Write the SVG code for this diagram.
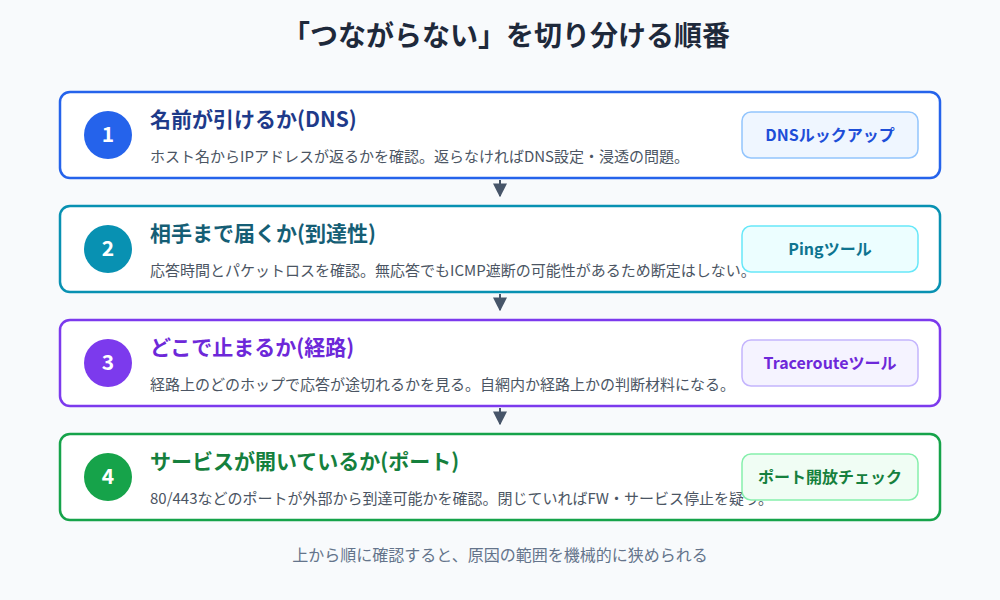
<svg xmlns="http://www.w3.org/2000/svg" width="1000" height="600" viewBox="0 0 1000 600">
<defs>
<style>
text{font-family:"Noto Sans CJK JP","Noto Sans",sans-serif}
.title{font-size:28px;font-weight:700;fill:#1e293b}
.card{fill:#ffffff;stroke-width:2.5}
.num{font-size:21px;font-weight:700;fill:#ffffff}
.h{font-size:21px;font-weight:700}
.d{font-size:15px;fill:#4b5563}
.b{font-size:16px;font-weight:700}
.foot{font-size:16px;fill:#64748b}
.conn{stroke:#475569;stroke-width:2;fill:none}
</style>
<marker id="ah" viewBox="0 0 10 10" refX="9" refY="5" markerWidth="7" markerHeight="7" markerUnits="strokeWidth" orient="auto">
<path d="M0,0 L10,5 L0,10 Z" fill="#475569"/>
</marker>
</defs>
<rect width="1000" height="600" fill="#f8fafc"/>
<text class="title" x="506" y="46" text-anchor="middle">「つながらない」を切り分ける順番</text>

<g id="connectors">
<line class="conn" x1="500" y1="180" x2="500" y2="196" marker-end="url(#ah)"/>
<line class="conn" x1="500" y1="294" x2="500" y2="310" marker-end="url(#ah)"/>
<line class="conn" x1="500" y1="408" x2="500" y2="424" marker-end="url(#ah)"/>
</g>

<g id="step1">
<rect class="card" x="60" y="92" width="880" height="86" rx="10" stroke="#2563eb"/>
<circle cx="108" cy="135" r="24" fill="#2563eb"/>
<text class="num" x="108" y="142" text-anchor="middle">1</text>
<text class="h" x="150" y="127" fill="#1e3a8a">名前が引けるか(DNS)</text>
<text class="d" x="150" y="162">ホスト名からIPアドレスが返るかを確認。返らなければDNS設定・浸透の問題。</text>
<rect x="742" y="112" width="176" height="46" rx="9" fill="#eff6ff" stroke="#93c5fd" stroke-width="1.5"/>
<text class="b" x="830" y="141" text-anchor="middle" fill="#1d4ed8">DNSルックアップ</text>
</g>

<g id="step2">
<rect class="card" x="60" y="206" width="880" height="86" rx="10" stroke="#0891b2"/>
<circle cx="108" cy="249" r="24" fill="#0891b2"/>
<text class="num" x="108" y="256" text-anchor="middle">2</text>
<text class="h" x="150" y="241" fill="#155e75">相手まで届くか(到達性)</text>
<text class="d" x="150" y="276">応答時間とパケットロスを確認。無応答でもICMP遮断の可能性があるため断定はしない。</text>
<rect x="742" y="226" width="176" height="46" rx="9" fill="#ecfeff" stroke="#67e8f9" stroke-width="1.5"/>
<text class="b" x="830" y="255" text-anchor="middle" fill="#0e7490">Pingツール</text>
</g>

<g id="step3">
<rect class="card" x="60" y="320" width="880" height="86" rx="10" stroke="#7c3aed"/>
<circle cx="108" cy="363" r="24" fill="#7c3aed"/>
<text class="num" x="108" y="370" text-anchor="middle">3</text>
<text class="h" x="150" y="355" fill="#6d28d9">どこで止まるか(経路)</text>
<text class="d" x="150" y="390">経路上のどのホップで応答が途切れるかを見る。自網内か経路上かの判断材料になる。</text>
<rect x="742" y="340" width="176" height="46" rx="9" fill="#f5f3ff" stroke="#c4b5fd" stroke-width="1.5"/>
<text class="b" x="830" y="369" text-anchor="middle" fill="#6d28d9">Tracerouteツール</text>
</g>

<g id="step4">
<rect class="card" x="60" y="434" width="880" height="86" rx="10" stroke="#16a34a"/>
<circle cx="108" cy="477" r="24" fill="#16a34a"/>
<text class="num" x="108" y="484" text-anchor="middle">4</text>
<text class="h" x="150" y="469" fill="#15803d">サービスが開いているか(ポート)</text>
<text class="d" x="150" y="504">80/443などのポートが外部から到達可能かを確認。閉じていればFW・サービス停止を疑う。</text>
<rect x="742" y="454" width="176" height="46" rx="9" fill="#f0fdf4" stroke="#86efac" stroke-width="1.5"/>
<text class="b" x="830" y="483" text-anchor="middle" fill="#15803d">ポート開放チェック</text>
</g>

<text class="foot" x="500" y="561" text-anchor="middle">上から順に確認すると、原因の範囲を機械的に狭められる</text>
</svg>
